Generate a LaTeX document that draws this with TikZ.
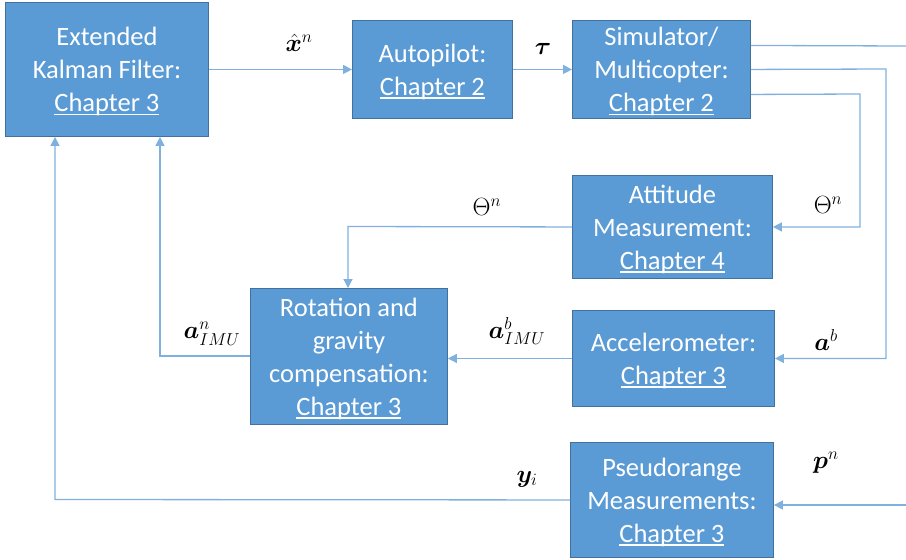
\documentclass[tikz,border=0pt]{standalone}
\usepackage{amsmath,bm}
\usepackage{fontspec}
\setmainfont{Carlito}
\usetikzlibrary{arrows.meta,calc}
\definecolor{boxfill}{HTML}{5B9BD5}
\definecolor{boxline}{HTML}{41719C}
\definecolor{wire}{HTML}{7FB0DE}
\newcommand{\chapul}[1]{{\setbox0\hbox{#1}\rlap{\raisebox{-3.5pt}{\rule{\wd0}{1.3pt}}}\box0}}
\tikzset{
  blk/.style={draw=boxline, line width=0.9pt, fill=boxfill, inner sep=0pt, anchor=north west},
  boxlbl/.style={text=white, align=center, font=\fontsize{26.5}{33}\selectfont,
    inner sep=0pt, yshift=-2pt},
  boxtext/.style={label={[boxlbl]center:{#1}}},
  wireline/.style={draw=wire, line width=1.3pt},
  arr/.style={wireline, -{Triangle[length=9pt,width=9pt]}},
  lbl/.style={font=\fontsize{26}{28}\selectfont, inner sep=0pt}
}
\begin{document}
\begin{tikzpicture}[x=1pt,y=-1pt]
\useasboundingbox (0,0) rectangle (906,560);
% boxes
\node[blk, minimum width=203pt, minimum height=134pt,
  boxtext={Extended\\Kalman Filter:\\\chapul{Chapter 3}}] (ekf) at (5,2) {};
\node[blk, minimum width=160pt, minimum height=98pt,
  boxtext={Autopilot:\\\chapul{Chapter 2}}] (ap) at (352,20) {};
\node[blk, minimum width=178pt, minimum height=98pt,
  boxtext={Simulator/\\Multicopter:\\\chapul{Chapter 2}}] (sim) at (572,20) {};
\node[blk, minimum width=200pt, minimum height=103pt,
  boxtext={Attitude\\Measurement:\\\chapul{Chapter 4}}] (att) at (572,175) {};
\node[blk, minimum width=202pt, minimum height=96pt,
  boxtext={Accelerometer:\\\chapul{Chapter 3}}] (acc) at (572,310) {};
\node[blk, minimum width=197pt, minimum height=136pt,
  boxtext={Rotation and\\gravity\\compensation:\\\chapul{Chapter 3}}] (rot) at (250,288) {};
\node[blk, minimum width=203pt, minimum height=115pt,
  boxtext={Pseudorange\\Measurements:\\\chapul{Chapter 3}}] (psr) at (570,442) {};
% free ends
\coordinate (outtop) at (906,46);
\coordinate (inpsr) at (906,505);
% connectors
\draw[arr] (ekf.east) -- (ap.west);
\draw[arr] (ap.east) -- (sim.west);
\draw[wireline] ($(sim.east)+(0,-24)$) -- (outtop);
\draw[arr] (sim.east) -- (886,69) |- (acc.east);
\draw[arr] ($(sim.east)+(0,25)$) -- (860,94) |- (att.east);
\draw[arr] (att.west) -- (348,226.5) -- (rot.north -| 348,0);
\draw[arr] (acc.west) -- (rot.east |- acc.west);
\draw[arr] (rot.west |- 0,356) -- (160,356) -- (ekf.south -| 160,0);
\draw[arr] (psr.west) -- (55,499.5) -- (ekf.south -| 55,0);
\draw[arr] (inpsr) -- (psr.east |- inpsr);
% labels
\node[lbl] (lxh) at (299,43) {$\hat{\bm{x}}^{n}$};
\node[lbl] (ltau) at (543,49) {$\bm{\tau}$};
\node[lbl] (lth1) at (487,207) {$\Theta^{n}$};
\node[lbl] (lth2) at (828,205) {$\Theta^{n}$};
\node[lbl] (lab) at (826,340) {$\bm{a}^{b}$};
\node[lbl] (labimu) at (517,331) {$\bm{a}^{b}_{IMU}$};
\node[lbl] (lanimu) at (212,334) {$\bm{a}^{n}_{IMU}$};
\node[lbl] (lyi) at (527,479) {$\bm{y}_{i}$};
\node[lbl] (lpn) at (826,463) {$\bm{p}^{n}$};
\end{tikzpicture}
\end{document}
